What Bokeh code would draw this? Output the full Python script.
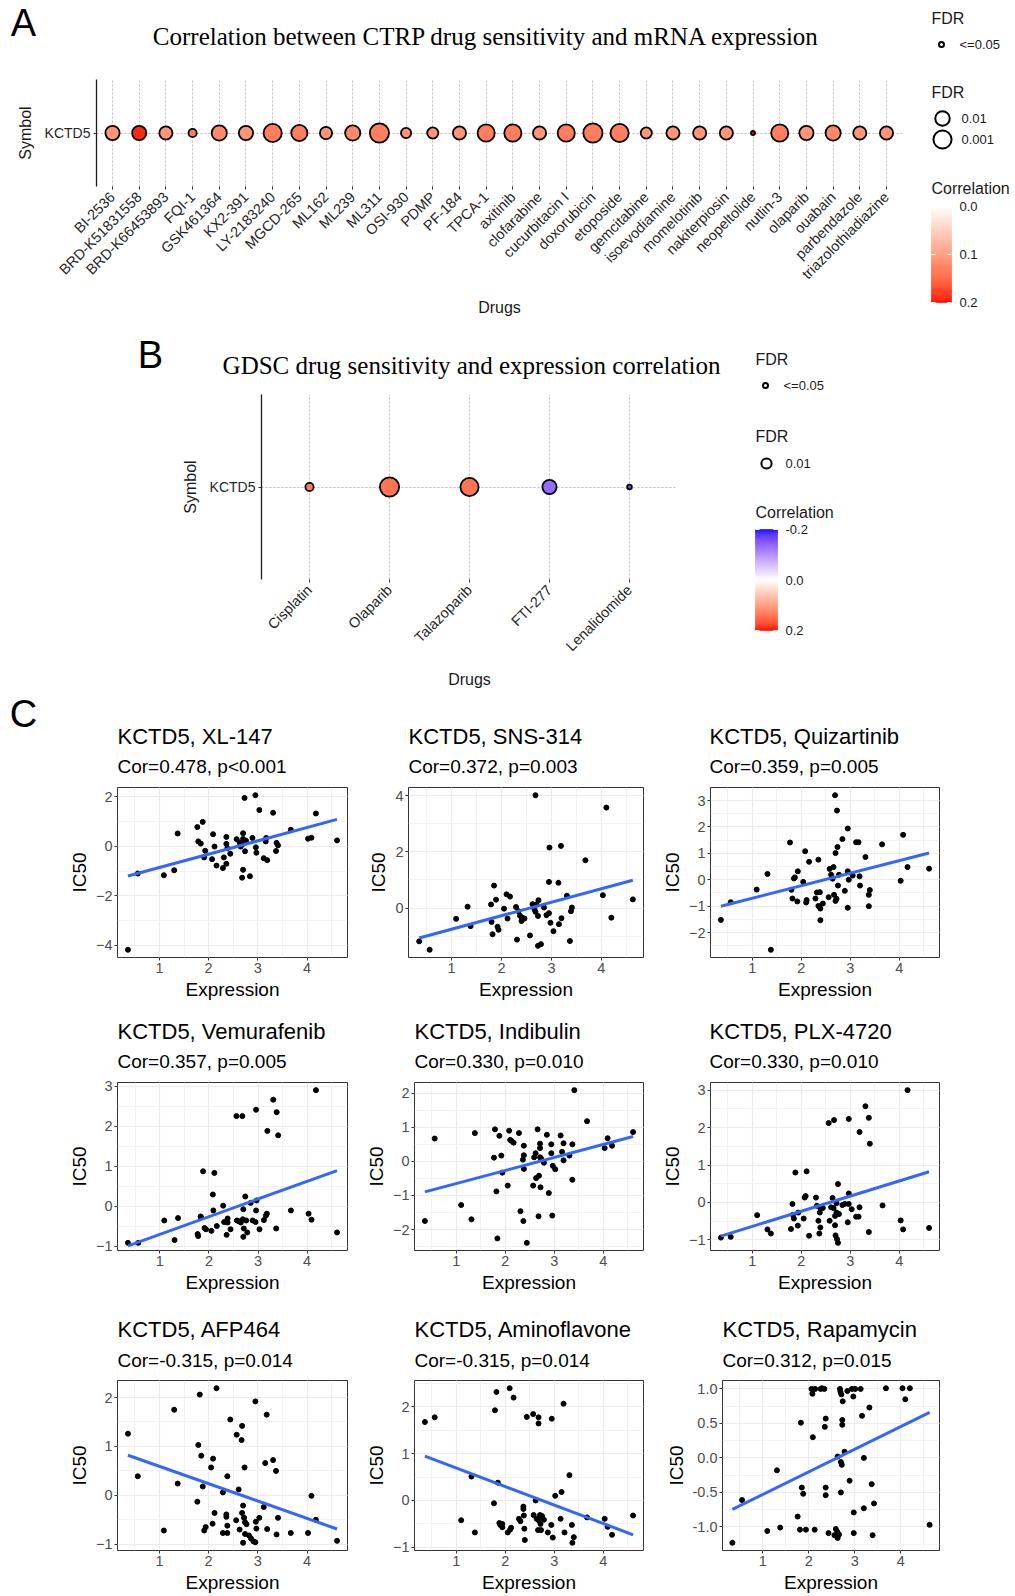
import math
import numpy as np
from bokeh.plotting import figure
from bokeh.layouts import column, row
from bokeh.models import (Range1d, FixedTicker, SingleIntervalTicker,
                          LinearColorMapper, ColumnDataSource, NumeralTickFormatter)
from bokeh.core.properties import value
from bokeh.embed import file_html
from bokeh.resources import INLINE

SANS = "Liberation Sans"
SERIF = "Liberation Serif"

# ---------------- data ----------------
gene = "KCTD5"

ctrp_title = "Correlation between CTRP drug sensitivity and mRNA expression"
ctrp_drugs = ["BI-2536", "BRD-K51831558", "BRD-K66453893", "FQI-1", "GSK461364", "KX2-391",
              "LY-2183240", "MGCD-265", "ML162", "ML239", "ML311", "OSI-930", "PDMP", "PF-184",
              "TPCA-1", "axitinib", "clofarabine", "cucurbitacin I", "doxorubicin", "etoposide",
              "gemcitabine", "isoevodiamine", "momelotinib", "nakiterpiosin", "neopeltolide",
              "nutlin-3", "olaparib", "ouabain", "parbendazole", "triazolothiadiazine"]
ctrp_fdr = [0.0116, 0.0116, 0.02, 0.175, 0.0065, 0.0116, 0.00095, 0.0035, 0.033, 0.0065,
            0.00046, 0.081, 0.053, 0.02, 0.0019, 0.0019, 0.02, 0.0019, 0.00046, 0.00095,
            0.053, 0.02, 0.02, 0.02, 0.54, 0.0019, 0.0116, 0.0065, 0.02, 0.02]
ctrp_cor = [0.11, 0.19, 0.11, 0.13, 0.12, 0.11, 0.13, 0.13, 0.11, 0.12,
            0.13, 0.11, 0.11, 0.11, 0.13, 0.13, 0.11, 0.13, 0.13, 0.13,
            0.11, 0.11, 0.11, 0.11, 0.20, 0.13, 0.11, 0.12, 0.11, 0.11]

gdsc_title = "GDSC drug sensitivity and expression correlation"
gdsc_drugs = ["Cisplatin", "Olaparib", "Talazoparib", "FTI-277", "Lenalidomide"]
gdsc_fdr = [0.041, 8e-7, 2.9e-6, 2.9e-4, 0.26]
gdsc_cor = [0.13, 0.14, 0.14, -0.13, -0.15]

xl147_expr = [0.36,0.56,1.09,1.30,1.37,1.77,1.88,1.79,1.84,1.93,1.91,2.09,2.12,2.07,2.16,2.29,2.31,2.36,2.36,2.36,2.38,2.44,2.57,2.63,2.65,2.70,2.70,2.68,2.70,2.68,2.73,2.74,2.76,2.84,2.89,2.95,2.96,2.97,3.03,3.12,3.19,3.17,3.16,3.31,3.38,3.41,3.37,3.67,4.02,4.09,4.18,4.61]
xl147_ic50 = [-4.19,-1.10,-1.17,-0.97,0.52,0.78,0.99,0.20,0.11,-0.18,-0.45,0.49,-0.01,-0.52,-0.78,-0.88,-0.45,-0.71,0.38,0.10,-0.08,-0.30,0.29,0.15,-0.01,0.53,0.30,0.07,-0.95,-1.27,1.96,-0.20,0.23,-1.21,0.34,2.07,-0.04,-0.26,1.47,-0.48,-0.56,0.34,0.20,1.36,0.14,0.04,-0.19,0.67,0.31,0.35,1.33,0.24]

sns314_expr = [0.35,0.56,1.09,1.32,1.38,1.79,1.85,1.80,1.82,1.89,1.92,1.94,2.05,2.10,2.12,2.17,2.29,2.31,2.34,2.37,2.40,2.41,2.46,2.57,2.62,2.66,2.68,2.68,2.70,2.73,2.73,2.74,2.79,2.85,2.90,2.95,2.96,2.95,2.98,3.04,3.14,3.15,3.19,3.20,3.31,3.37,3.39,3.41,3.68,4.03,4.10,4.20,4.63]
sns314_ic50 = [-1.18,-1.48,-0.38,0.05,-0.64,0.13,0.80,-0.49,-0.93,0.30,-0.66,-0.77,-0.02,0.49,-0.37,0.41,0.04,-1.12,-0.11,-0.27,-0.46,-0.34,-0.37,-0.97,0.14,-0.05,4.01,-0.13,0.13,-0.28,-1.34,0.28,-1.28,0.02,-0.25,-0.18,2.15,0.93,-0.52,-0.82,0.90,-0.57,2.21,-0.36,0.44,-1.17,-0.11,0.02,1.70,0.46,3.57,-0.34,0.31]

quiz_expr = [0.36,0.56,1.09,1.31,1.38,1.77,1.80,1.82,1.85,1.87,1.92,1.93,2.04,2.08,2.10,2.11,2.16,2.29,2.32,2.35,2.35,2.38,2.39,2.39,2.44,2.56,2.58,2.61,2.64,2.66,2.67,2.69,2.70,2.70,2.72,2.73,2.74,2.75,2.77,2.84,2.89,2.95,2.95,2.97,2.95,3.05,3.12,3.17,3.19,3.20,3.31,3.38,3.38,3.40,3.65,4.03,4.08,4.17,4.61]
quiz_ic50 = [-1.52,-0.85,-0.37,0.22,-2.65,1.41,-0.38,-0.71,0.05,0.09,-0.82,0.32,-0.08,1.08,-0.86,-0.77,0.68,-0.71,-0.48,0.76,-0.99,-0.47,-1.09,-1.53,-0.90,-0.66,0.41,0.19,0.04,0.48,-0.57,3.20,1.01,-0.80,-0.72,2.62,1.24,-0.22,0.19,1.54,-0.42,1.94,0.32,0.00,-1.06,0.16,1.42,1.42,0.13,-0.22,0.86,-0.57,-1.00,-0.39,1.34,-0.04,1.70,0.48,0.42]

vemu_expr = [0.35,0.56,1.09,1.30,1.37,1.77,1.78,1.83,1.84,1.88,1.91,1.94,2.05,2.08,2.09,2.11,2.16,2.29,2.31,2.36,2.38,2.38,2.44,2.56,2.57,2.61,2.65,2.68,2.69,2.70,2.70,2.71,2.74,2.76,2.78,2.85,2.89,2.95,2.96,2.96,2.97,3.03,3.12,3.16,3.19,3.18,3.31,3.37,3.38,3.41,3.67,4.03,4.09,4.18,4.61]
vemu_ic50 = [-0.92,-0.92,-0.36,-0.85,-0.30,-0.70,-0.75,-0.26,-0.28,0.87,-0.55,-0.58,-0.62,0.29,-0.11,0.83,-0.50,0.01,-0.40,-0.72,-0.31,-0.41,-0.58,2.25,-0.36,-0.38,-0.41,2.25,-0.33,-0.08,-0.77,-0.56,0.24,-0.36,-0.66,0.08,-0.36,-0.40,2.41,-0.11,0.14,-0.58,-0.35,-0.24,1.88,-0.19,2.66,-0.56,2.35,1.77,-0.11,-0.19,-0.34,2.90,-0.66]

indi_expr = [0.36,0.56,1.10,1.31,1.38,1.77,1.79,1.82,1.84,1.88,1.92,1.94,2.05,2.08,2.10,2.13,2.17,2.28,2.31,2.36,2.37,2.38,2.38,2.38,2.44,2.57,2.59,2.62,2.63,2.66,2.68,2.69,2.71,2.71,2.71,2.72,2.73,2.79,2.85,2.89,2.94,2.94,2.96,2.97,3.02,3.13,3.16,3.19,3.19,3.31,3.37,3.37,3.41,3.67,4.03,4.09,4.18,4.61]
indi_ic50 = [-1.75,0.67,-1.28,-1.70,0.83,0.11,0.94,-0.88,-2.26,0.75,0.17,-0.33,-0.71,0.90,0.63,0.60,0.55,0.83,-1.46,0.05,-1.75,0.46,0.18,-0.22,-2.39,-0.71,0.12,0.24,-0.49,0.94,-1.61,-0.42,0.39,0.12,0.52,-0.76,0.09,-0.04,0.78,-0.93,0.50,0.24,-1.59,-0.13,-0.23,0.76,0.28,0.53,0.03,0.17,0.50,-0.54,2.09,1.18,0.39,0.68,0.46,0.86]

plx_expr = [0.36,0.56,1.10,1.31,1.38,1.79,1.82,1.83,1.85,1.88,1.93,1.94,2.05,2.07,2.09,2.11,2.16,2.30,2.32,2.35,2.37,2.38,2.39,2.39,2.44,2.56,2.58,2.61,2.64,2.66,2.67,2.69,2.69,2.70,2.72,2.72,2.73,2.75,2.75,2.77,2.84,2.89,2.95,2.97,2.97,2.97,3.03,3.12,3.17,3.19,3.19,3.31,3.38,3.38,3.40,3.66,4.03,4.08,4.17,4.61]
plx_ic50 = [-0.94,-0.92,-0.34,-0.72,-0.83,-0.71,-0.04,-0.33,-0.43,0.80,-0.62,-0.27,-0.43,0.13,0.17,0.83,-0.89,0.13,-0.09,-0.49,-0.83,-0.27,-0.67,-0.15,-0.15,2.12,-0.49,-0.13,0.12,-0.15,2.20,-0.36,-0.61,-0.88,-0.02,-0.27,-0.98,0.49,-1.08,-0.31,-0.07,-0.04,-0.53,0.24,2.23,-0.04,-0.18,-0.38,-0.38,1.88,-0.13,2.57,2.26,-0.79,1.57,-0.08,-0.48,-0.72,3.00,-0.68]

afp_expr = [0.36,0.56,1.09,1.30,1.37,1.77,1.79,1.82,1.85,1.88,1.91,1.94,2.05,2.08,2.09,2.12,2.16,2.29,2.29,2.36,2.36,2.38,2.38,2.38,2.44,2.56,2.57,2.61,2.63,2.67,2.68,2.68,2.70,2.70,2.72,2.73,2.74,2.74,2.77,2.82,2.86,2.91,2.95,2.95,2.96,2.97,3.03,3.12,3.15,3.18,3.19,3.31,3.37,3.38,3.41,3.67,4.02,4.09,4.18,4.61]
afp_ic50 = [1.26,0.39,-0.72,1.75,0.24,-0.13,1.03,2.06,0.81,0.18,-0.72,-0.65,0.57,-0.58,0.75,-0.36,2.19,0.06,-0.77,-0.44,-0.39,0.39,-0.62,-0.77,1.55,-0.51,1.24,0.12,-0.70,1.13,1.42,-0.36,-0.21,-0.97,-0.46,0.57,-0.55,-0.79,-0.59,-0.82,-0.88,-0.94,-0.96,1.92,-0.54,-0.68,-0.46,-0.24,0.66,1.65,-0.69,0.72,0.50,-0.80,-0.46,-0.77,-0.77,-0.01,-0.50,-0.93]

amino_expr = [0.36,0.56,1.10,1.31,1.38,1.77,1.79,1.82,1.85,1.88,1.90,1.94,1.94,2.05,2.10,2.12,2.09,2.17,2.28,2.31,2.37,2.37,2.38,2.39,2.40,2.44,2.57,2.58,2.62,2.64,2.67,2.68,2.68,2.69,2.71,2.72,2.73,2.75,2.79,2.87,2.94,2.95,2.97,3.02,3.13,3.15,3.19,3.21,3.31,3.36,3.37,3.40,3.67,4.03,4.09,4.18,4.61]
amino_ic50 = [1.67,1.77,-0.42,0.51,-0.68,-0.06,1.92,2.31,0.38,-0.48,-0.52,-0.57,-0.50,-0.68,-0.62,-0.58,2.39,2.19,-0.39,-0.44,-0.13,-0.18,-0.32,-0.60,-0.84,1.78,1.84,-0.31,0.00,-0.39,-0.63,1.77,1.64,-0.43,-0.31,-0.50,-0.63,-0.33,-0.41,-0.68,-0.52,1.74,-0.79,0.10,-0.39,0.18,2.06,-0.68,0.54,-0.52,-0.90,-0.78,-0.36,-0.39,-0.56,-0.73,-0.32]

rapa_expr = [0.34,0.55,1.10,1.31,1.38,1.76,1.81,1.83,1.85,1.88,1.94,2.06,2.08,2.09,2.13,2.14,2.26,2.29,2.34,2.35,2.37,2.37,2.37,2.43,2.56,2.59,2.62,2.63,2.63,2.66,2.68,2.69,2.70,2.70,2.71,2.72,2.73,2.73,2.74,2.78,2.84,2.89,2.94,2.97,2.98,2.98,3.01,3.13,3.16,3.20,3.20,3.32,3.37,3.39,3.42,3.68,4.04,4.10,4.20,4.63]
rapa_ic50 = [-1.23,-0.61,-1.06,-0.18,-1.01,-0.85,-1.04,0.51,-0.43,-0.52,-1.04,1.00,0.93,0.30,-1.04,1.00,1.00,1.01,1.00,0.45,0.57,-0.43,-0.54,-1.09,-1.12,-1.03,-1.07,0.02,-1.16,-1.11,1.00,0.96,-0.06,-0.50,0.92,-0.10,0.55,0.48,0.82,0.09,0.97,-0.33,1.00,0.89,-0.79,-1.09,1.00,1.00,0.61,0.00,-0.73,0.73,-0.38,-1.12,-0.66,1.01,1.01,0.85,1.01,-0.97]

scatter_drugs = ["XL-147", "SNS-314", "Quizartinib", "Vemurafenib", "Indibulin", "PLX-4720",
                 "AFP464", "Aminoflavone", "Rapamycin"]
scatter_cor = ["0.478", "0.372", "0.359", "0.357", "0.330", "0.330", "-0.315", "-0.315", "0.312"]
scatter_p = ["p<0.001", "p=0.003", "p=0.005", "p=0.005", "p=0.010", "p=0.010", "p=0.014", "p=0.014", "p=0.015"]
scatter_x = [xl147_expr, sns314_expr, quiz_expr, vemu_expr, indi_expr, plx_expr, afp_expr, amino_expr, rapa_expr]
scatter_y = [xl147_ic50, sns314_ic50, quiz_ic50, vemu_ic50, indi_ic50, plx_ic50, afp_ic50, amino_ic50, rapa_ic50]
fit_slope = [0.539, 0.479, 0.473, 0.442, 0.382, 0.405, -0.355, -0.394, 0.328]
fit_intercept = [-1.394, -1.228, -1.170, -1.149, -1.031, -1.046, 0.948, 1.086, -0.858]
y_tick_step = [2, 2, 1, 1, 1, 1, 1, 1, 0.5]

# ---------------- colour helpers (CIELAB ramp like ggplot) ----------------
def _hex_rgb(h):
    return tuple(int(h[i:i + 2], 16) for i in (1, 3, 5))

def _lin(c):
    c = c / 255.0
    return c / 12.92 if c <= 0.04045 else ((c + 0.055) / 1.055) ** 2.4

def _delin(c):
    c = min(max(c, 0.0), 1.0)
    v = 12.92 * c if c <= 0.0031308 else 1.055 * c ** (1 / 2.4) - 0.055
    return int(round(v * 255))

_WN = (0.95047, 1.0, 1.08883)

def _f(t):
    return t ** (1 / 3) if t > 0.008856 else 7.787 * t + 16 / 116

def _finv(t):
    return t ** 3 if t ** 3 > 0.008856 else (t - 16 / 116) / 7.787

def _to_lab(h):
    r, g, b = [_lin(c) for c in _hex_rgb(h)]
    X = 0.4124 * r + 0.3576 * g + 0.1805 * b
    Y = 0.2126 * r + 0.7152 * g + 0.0722 * b
    Z = 0.0193 * r + 0.1192 * g + 0.9505 * b
    fx, fy, fz = _f(X / _WN[0]), _f(Y / _WN[1]), _f(Z / _WN[2])
    return (116 * fy - 16, 500 * (fx - fy), 200 * (fy - fz))

def _from_lab(L, a, b):
    fy = (L + 16) / 116
    fx = fy + a / 500
    fz = fy - b / 200
    X, Y, Z = _WN[0] * _finv(fx), _WN[1] * _finv(fy), _WN[2] * _finv(fz)
    r = 3.2406 * X - 1.5372 * Y - 0.4986 * Z
    g = -0.9689 * X + 1.8758 * Y + 0.0415 * Z
    bb = 0.0557 * X - 0.2040 * Y + 1.0570 * Z
    return "#%02x%02x%02x" % (_delin(r), _delin(g), _delin(bb))

def ramp(c1, c2, n):
    l1, l2 = _to_lab(c1), _to_lab(c2)
    return [_from_lab(*[l1[i] + (l2[i] - l1[i]) * t for i in range(3)]) for t in np.linspace(0, 1, n)]

mapA = LinearColorMapper(palette=ramp("#FFFFFF", "#FF0000", 256), low=0.0, high=0.2)
mapB = LinearColorMapper(palette=ramp("#0000FF", "#FFFFFF", 128) + ramp("#FFFFFF", "#FF0000", 128),
                         low=-0.2, high=0.2)

DOT_LW = 1.8

def dot_size(fdr, k):
    return [k * math.sqrt(-math.log10(f)) - DOT_LW for f in fdr]

# ---------------- helpers ----------------
def boxed(p):
    # isolate each plot so that layouts do not synchronise its borders with neighbours
    return row(p)

def strip(width, height):
    p = figure(width=width, height=height, x_range=Range1d(0, width), y_range=Range1d(height, 0),
               min_border=0, toolbar_location=None, output_backend="svg",
               x_axis_location=None, y_axis_location=None)
    p.grid.visible = False
    p.outline_line_color = None
    return p

def txt(p, x, y, s, size, font=SANS, align="left", color="#1A1A1A"):
    p.text(x=[x], y=[y], text=[s], text_font=value(font), text_font_size=size,
           text_baseline="middle", text_align=align, text_color=color)

# ---------------- dot plots ----------------
def dot_plot(drugs, fdr, cor, mapper, k, width, height, left, right, top, bottom):
    pos = list(range(1, len(drugs) + 1))
    src = ColumnDataSource(dict(pos=pos, row=[1] * len(pos), cor=cor, size=dot_size(fdr, k)))
    p = figure(width=width, height=height, x_range=Range1d(0.4, len(pos) + 0.6),
               y_range=Range1d(0.4, 1.6), min_border_left=left, min_border_right=right,
               min_border_top=top, min_border_bottom=bottom, toolbar_location=None,
               output_backend="svg")
    p.outline_line_color = None
    p.xaxis.ticker = FixedTicker(ticks=pos)
    p.xaxis.major_label_overrides = {i: d for i, d in zip(pos, drugs)}
    p.xaxis.major_label_orientation = math.pi / 4
    p.xaxis.axis_line_color = None
    p.yaxis.ticker = FixedTicker(ticks=[1])
    p.yaxis.major_label_overrides = {1: gene}
    p.yaxis.axis_line_color = "#1A1A1A"
    p.yaxis.axis_line_width = 1.3
    for ax in (p.xaxis[0], p.yaxis[0]):
        ax.major_tick_out = 3
        ax.major_tick_in = 0
        ax.minor_tick_out = 0
        ax.major_tick_line_color = "#333333"
        ax.major_label_text_font = SANS
        ax.major_label_text_color = "#262626"
        ax.axis_label_text_font = SANS
        ax.axis_label_text_font_size = "16px"
        ax.axis_label_text_font_style = "normal"
        ax.axis_label_text_color = "#1A1A1A"
        ax.axis_label_standoff = 8
    p.xaxis.major_label_text_font_size = "14.5px"
    p.yaxis.major_label_text_font_size = "14px"
    p.xaxis.major_label_standoff = 5
    p.yaxis.major_label_standoff = 3
    p.xaxis.axis_label = "Drugs"
    p.yaxis.axis_label = "Symbol"
    p.xgrid.ticker = FixedTicker(ticks=pos)
    p.ygrid.ticker = FixedTicker(ticks=[1])
    for g in (p.xgrid[0], p.ygrid[0]):
        g.grid_line_color = "#BDBDBD"
        g.grid_line_dash = "2 2"
        g.grid_line_width = 1
    p.scatter(x="pos", y="row", size="size", source=src, line_color="black", line_width=DOT_LW,
              fill_color={"field": "cor", "transform": mapper})
    return p

# Panel A
stripA = strip(915, 62)
txt(stripA, 23, 22, "A", "38px", align="center", color="black")
txt(stripA, 486, 36, ctrp_title, "25px", font=SERIF, align="center", color="black")
figA = dot_plot(ctrp_drugs, ctrp_fdr, ctrp_cor, mapA, 11.5, 915, 256, 96, 13, 17, 115)

# Panel B
stripB = strip(735, 70)
txt(stripB, 150, 36, "B", "38px", align="center", color="black")
txt(stripB, 471, 47, gdsc_title, "25px", font=SERIF, align="center", color="black")
figB = dot_plot(gdsc_drugs, gdsc_fdr, gdsc_cor, mapB, 8.5, 735, 302, 261, 58, 6, 88)

# ---------------- legends ----------------
def draw_legend(p, x0, ys, k, fdr_levels, labels_fdr, mapper, lo, hi, cb_w, cb_top, cb_bot, cb_labels):
    txt(p, x0, ys[0], "FDR", "16px")
    p.scatter(x=[x0 + 10], y=[ys[1]], size=5, line_color="black", line_width=2, fill_color="white")
    txt(p, x0 + 28, ys[1], "<=0.05", "13px")
    txt(p, x0, ys[2], "FDR", "16px")
    p.scatter(x=[x0 + 11] * len(fdr_levels), y=ys[3], size=dot_size(fdr_levels, k),
              line_color="black", line_width=2, fill_color="white")
    for yy, lab in zip(ys[3], labels_fdr):
        txt(p, x0 + 30, yy, lab, "13px")
    txt(p, x0, ys[4], "Correlation", "16px")
    n = 100
    vals = np.linspace(lo, hi, n + 1)
    mids = (vals[:-1] + vals[1:]) / 2
    ypx = cb_top + (vals - lo) / (hi - lo) * (cb_bot - cb_top)
    cb_src = ColumnDataSource(dict(v=list(mids), l=[x0] * n, r=[x0 + cb_w] * n,
                                   t=list(ypx[:-1]), b=list(ypx[1:])))
    p.quad(left="l", right="r", top="t", bottom="b",
           fill_color={"field": "v", "transform": mapper},
           line_color={"field": "v", "transform": mapper}, line_width=0.6, source=cb_src)
    for v, lab in cb_labels:
        yy = cb_top + (v - lo) / (hi - lo) * (cb_bot - cb_top)
        p.segment(x0=[x0, x0 + cb_w - 4], x1=[x0 + 4, x0 + cb_w], y0=[yy, yy], y1=[yy, yy],
                  line_color="white", line_width=1)
        txt(p, x0 + cb_w + 8, yy, lab, "13px")

legA = strip(100, 318)
draw_legend(legA, 16, (18, 44, 92, [118, 139], 188), 11.5, [0.01, 0.001], ["0.01", "0.001"],
            mapA, 0.0, 0.2, 20, 206, 302, [(0.0, "0.0"), (0.1, "0.1"), (0.2, "0.2")])

legB = strip(280, 372)
draw_legend(legB, 20, (41, 67, 118, [145], 194), 8.5, [0.01], ["0.01"],
            mapB, -0.2, 0.2, 22, 211, 312, [(-0.2, "-0.2"), (0.0, "0.0"), (0.2, "0.2")])

# ---------------- scatter panels ----------------
col_w = [362, 296, 357]
# strip height, figure height, top border, frame height ; title/subtitle centres inside strip
row_geo = [(92, 221, 5, 170, 46, 76), (74, 219, 5, 168, 28, 58), (79, 221, 5, 170, 33, 64)]
frame_left = [117, 46, 51, 117, 52, 51, 117, 52, 64]
frame_right = [15, 15, 76]

def scatter_panel(i):
    r, c = divmod(i, 3)
    sh, height, top, fh, ty, sy = row_geo[r]
    width = col_w[c]
    left = frame_left[i]
    right = frame_right[c]
    xs, ys = scatter_x[i], scatter_y[i]
    xpad = (max(xs) - min(xs)) * 0.05
    ypad = (max(ys) - min(ys)) * 0.05
    p = figure(width=width, height=height, x_range=Range1d(min(xs) - xpad, max(xs) + xpad),
               y_range=Range1d(min(ys) - ypad, max(ys) + ypad), min_border_left=left,
               min_border_right=right, min_border_top=top, min_border_bottom=height - top - fh,
               toolbar_location=None, output_backend="svg")
    p.outline_line_color = "#333333"
    p.outline_line_width = 1
    p.xaxis.ticker = SingleIntervalTicker(interval=1, num_minor_ticks=2)
    p.yaxis.ticker = SingleIntervalTicker(interval=y_tick_step[i], num_minor_ticks=2)
    if y_tick_step[i] < 1:
        p.yaxis.formatter = NumeralTickFormatter(format="0.0")
    for ax in (p.xaxis[0], p.yaxis[0]):
        ax.axis_line_color = None
        ax.major_tick_out = 3
        ax.major_tick_in = 0
        ax.minor_tick_out = 0
        ax.major_tick_line_color = "#333333"
        ax.major_label_text_font = SANS
        ax.major_label_text_font_size = "14.5px"
        ax.major_label_text_color = "#4D4D4D"
        ax.major_label_standoff = 2
        ax.axis_label_text_font = SANS
        ax.axis_label_text_font_size = "19px"
        ax.axis_label_text_font_style = "normal"
        ax.axis_label_text_color = "black"
        ax.axis_label_standoff = 3
    p.xaxis.axis_label = "Expression"
    p.yaxis.axis_label = "IC50"
    for g in (p.xgrid[0], p.ygrid[0]):
        g.grid_line_color = "#EBEBEB"
        g.grid_line_width = 1.2
        g.minor_grid_line_color = "#F0F0F0"
        g.minor_grid_line_width = 0.9
    p.scatter(x=xs, y=ys, size=5, color="black")
    x0, x1 = min(xs), max(xs)
    p.line(x=[x0, x1], y=[fit_slope[i] * x0 + fit_intercept[i], fit_slope[i] * x1 + fit_intercept[i]],
           line_color="#3366FF", line_width=3)

    s = strip(width, sh)
    txt(s, left, ty, f"{gene}, {scatter_drugs[i]}", "22px", color="black")
    txt(s, left, sy, f"Cor={scatter_cor[i]}, {scatter_p[i]}", "19px", color="black")
    if i == 0:
        txt(s, 23, 23, "C", "38px", align="center", color="black")
    return column(boxed(s), boxed(p))

panels = [scatter_panel(i) for i in range(9)]

layout = column(
    row(column(boxed(stripA), boxed(figA)), boxed(legA)),
    row(column(boxed(stripB), boxed(figB)), boxed(legB)),
    row(*panels[0:3]),
    row(*panels[3:6]),
    row(*panels[6:9]),
)

open("out.html", "w").write(file_html(layout, INLINE))
